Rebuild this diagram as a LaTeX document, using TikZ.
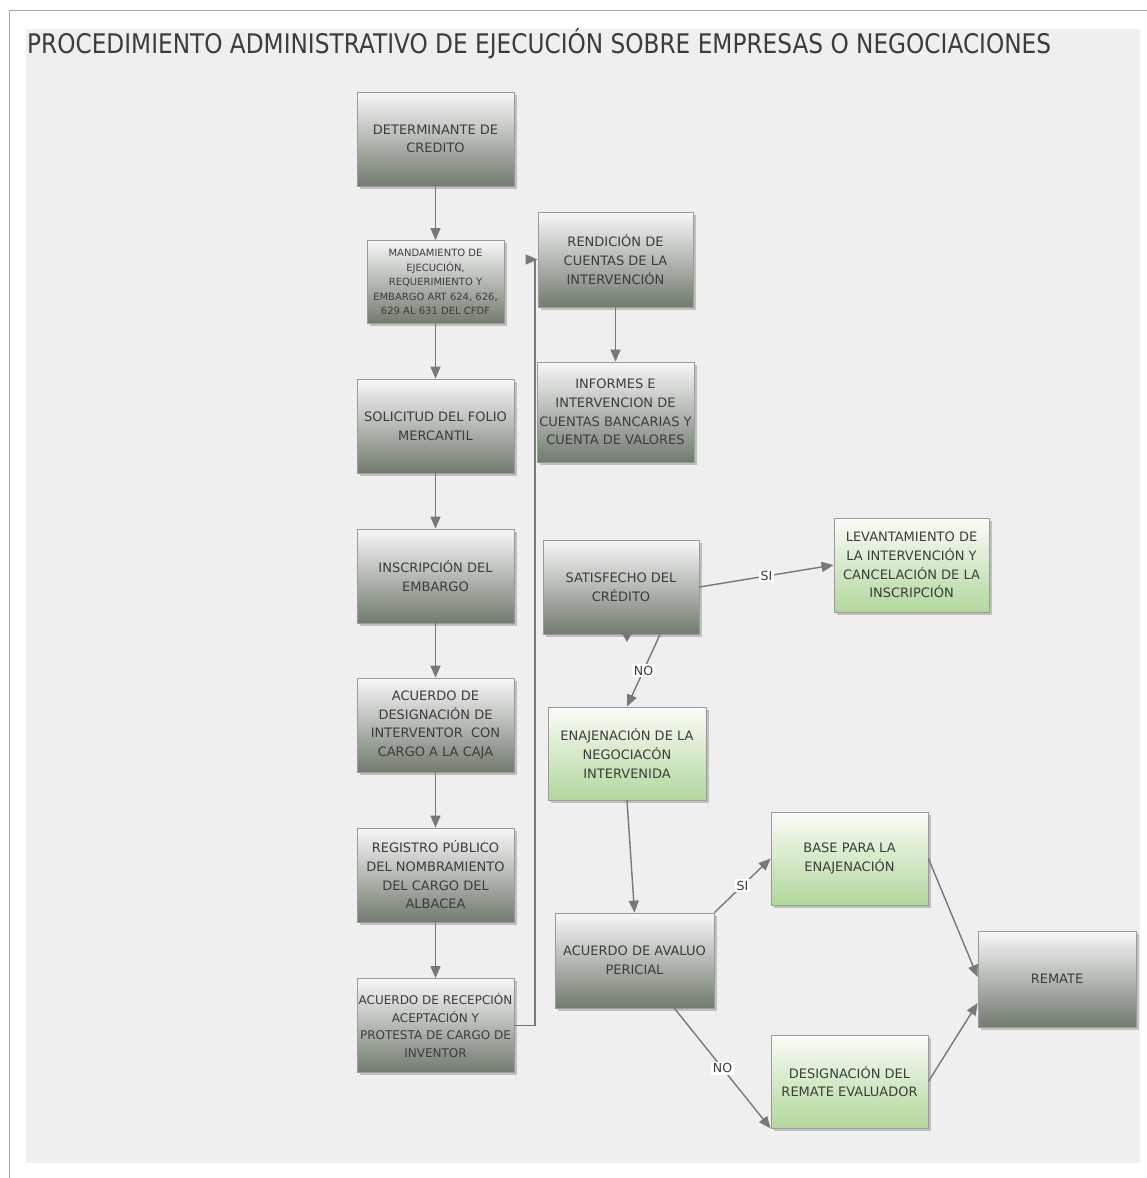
\documentclass[tikz,border=0pt]{standalone}
\usepackage{fontspec}
\setmainfont{DejaVu Sans}
\newfontfamily\titlefont[FakeStretch=0.86]{DejaVu Sans}
\usetikzlibrary{shadows,arrows.meta}
\definecolor{txt}{HTML}{3C3C3C}
\definecolor{panel}{HTML}{EFEFEF}
\definecolor{gbot}{HTML}{717B6E}
\definecolor{gtop}{HTML}{F7F7F7}
\definecolor{lbot}{HTML}{B2D79C}
\definecolor{ltop}{HTML}{FAFCF8}
\definecolor{edgecol}{HTML}{9A9A9A}
\definecolor{conncol}{HTML}{787878}
\begin{document}
\begin{tikzpicture}[x=1pt,y=-1pt,
 box/.style={draw=edgecol, line width=0.8pt, minimum width=157pt, minimum height=94pt, inner sep=0pt, align=center, text=txt, font=\fontsize{13}{18.7}\selectfont, drop shadow={shadow xshift=2.5pt,shadow yshift=-2.5pt,opacity=0.35,fill=black!60}},
 graybox/.style={box, top color=gtop, bottom color=gbot},
 greenbox/.style={box, top color=ltop, bottom color=lbot},
 conn/.style={draw=conncol, line width=1.4pt, -{Triangle[length=12pt,width=10pt]}},
 lbl/.style={fill=white, inner sep=1.5pt, text=txt, font=\fontsize{12.5}{14}\selectfont}]
\useasboundingbox (0,0) rectangle (1147,1178);
\fill[white] (0,0) rectangle (1147,1178);
\fill[panel] (26,29) rectangle (1140,1163);
\draw[black!35, line width=1pt] (9,1178) -- (9,10) -- (1147,10);

\node[anchor=base west, inner sep=0pt, text=txt, font=\titlefont\fontsize{27}{30}\selectfont] (title) at (27,53) {PROCEDIMIENTO ADMINISTRATIVO DE EJECUCIÓN SOBRE EMPRESAS O NEGOCIACIONES};

% left column
\node[graybox] (det) at (435.5,139) {DETERMINANTE DE\\CREDITO};
\node[graybox, minimum width=137pt, minimum height=83pt, font=\fontsize{10}{14.5}\selectfont] (mand) at (435.5,282) {MANDAMIENTO DE\\EJECUCIÓN,\\REQUERIMIENTO Y\\EMBARGO ART 624, 626,\\629 AL 631 DEL CFDF};
\node[graybox] (sol) at (435.5,426) {SOLICITUD DEL FOLIO\\MERCANTIL};
\node[graybox] (insc) at (435.5,576) {INSCRIPCIÓN DEL\\EMBARGO};
\node[graybox] (desig) at (435.5,725) {ACUERDO DE\\DESIGNACIÓN DE\\INTERVENTOR\ \ CON\\CARGO A LA CAJA};
\node[graybox] (reg) at (435.5,875) {REGISTRO PÚBLICO\\DEL NOMBRAMIENTO\\DEL CARGO DEL\\ALBACEA};
\node[graybox, font=\fontsize{12}{17.5}\selectfont] (recep) at (435.5,1025.5) {ACUERDO DE RECEPCIÓN\\ACEPTACIÓN Y\\PROTESTA DE CARGO DE\\INVENTOR};

% middle column
\node[graybox, minimum width=155pt, minimum height=95pt] (rend) at (615.5,259.5) {RENDICIÓN DE\\CUENTAS DE LA\\INTERVENCIÓN};
\node[graybox, minimum height=100pt] (info) at (615.5,412) {INFORMES E\\INTERVENCION DE\\CUENTAS BANCARIAS Y\\CUENTA DE VALORES};
\node[graybox, minimum width=156pt] (sat) at (621,587) {SATISFECHO DEL\\CRÉDITO};
\node[greenbox, minimum width=155pt] (lev) at (911.5,565) {LEVANTAMIENTO DE\\LA INTERVENCIÓN Y\\CANCELACIÓN DE LA\\INSCRIPCIÓN};
\node[greenbox, minimum width=158pt, minimum height=93pt] (enaj) at (627,753.5) {ENAJENACIÓN DE LA\\NEGOCIACÓN\\INTERVENIDA};
\node[graybox, minimum width=159pt, minimum height=95pt] (aval) at (634.5,960.5) {ACUERDO DE AVALUO\\PERICIAL};
\node[greenbox, minimum height=93pt] (base) at (849.5,858.5) {BASE PARA LA\\ENAJENACIÓN};
\node[greenbox, minimum height=93pt] (desg) at (849.5,1081.5) {DESIGNACIÓN DEL\\REMATE EVALUADOR};
\node[graybox, minimum width=158pt, minimum height=96pt] (rem) at (1057,979) {REMATE};

% connectors
\draw[conn] (det.south) -- (mand.north);
\draw[conn] (mand.south) -- (sol.north);
\draw[conn] (sol.south) -- (insc.north);
\draw[conn] (insc.south) -- (desig.north);
\draw[conn] (desig.south) -- (reg.north);
\draw[conn] (reg.south) -- (recep.north);
\draw[conn] (recep.east) -- (535,1025.5) -- (535,259.5) -- (rend.west);
\draw[conn] (rend.south) -- (info.north);
\draw[conn] (sat.east) -- node[lbl]{SI} (lev.west);
\draw[conn] ([xshift=39pt]sat.south) -- node[lbl]{NO} (enaj.north);
\fill[conncol] (622.5,634) -- (631.5,634) -- (627,642) -- cycle;
\draw[conn] (enaj.south) -- (aval.north);
\draw[conn] (aval.north east) -- node[lbl]{SI} (base.west);
\draw[conn] ([xshift=40pt]aval.south) -- node[lbl]{NO} (desg.south west);
\draw[conn] (base.east) -- ([yshift=2pt]rem.west);
\draw[conn] (desg.east) -- ([yshift=-24pt]rem.west);
\end{tikzpicture}
\end{document}
